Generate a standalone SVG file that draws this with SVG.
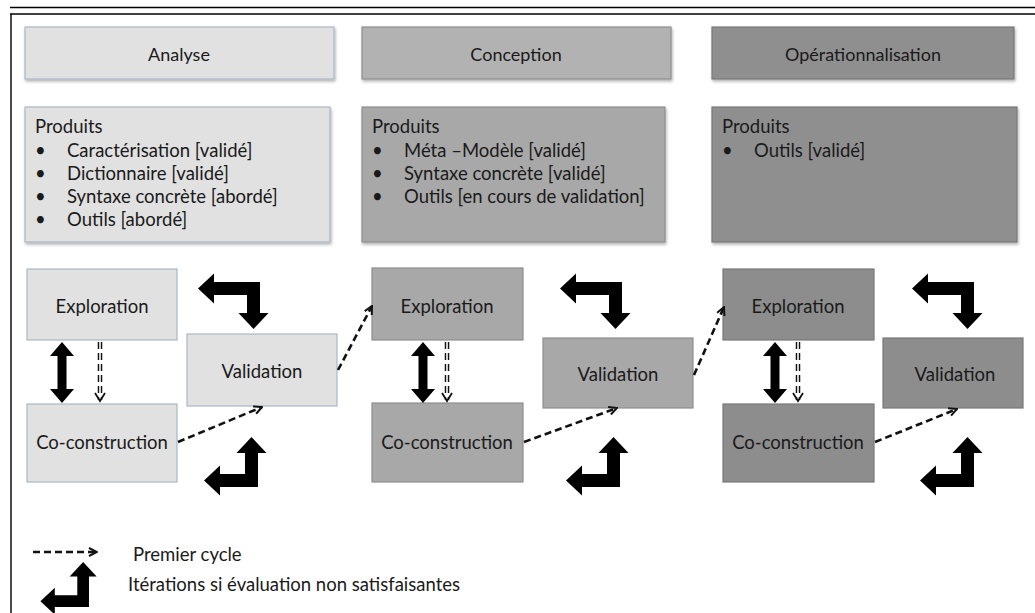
<svg xmlns="http://www.w3.org/2000/svg" xmlns:xlink="http://www.w3.org/1999/xlink" width="1035" height="613" viewBox="0 0 1035 613">
<style>
.t{font-family:Lato,"Open Sans","Liberation Sans",sans-serif;fill:#1a1a1a}
.h{font-size:18px;text-anchor:middle}
.p{font-size:18.5px}
.c{font-size:18.5px;text-anchor:middle}
.b1{fill:#e1e1e1;stroke:#a9b6c6;stroke-width:1.2}
.b2{fill:#a8a8a8;stroke:#8e8e8e;stroke-width:1.2}
.b3{fill:#8d8d8d;stroke:#787878;stroke-width:1.2}
.dash{fill:none;stroke:#111;stroke-width:2.6;stroke-dasharray:7 4}
.blk{fill:#000}
</style>
<defs>
<filter id="sh" x="-5%" y="-5%" width="112%" height="120%">
<feDropShadow dx="1" dy="2" stdDeviation="1.5" flood-color="#000" flood-opacity="0.3"/>
</filter>
<marker id="ah" viewBox="0 0 10 10" refX="9" refY="5" markerWidth="10" markerHeight="10" markerUnits="userSpaceOnUse" orient="auto">
<path d="M1,1 L9,5 L1,9" fill="none" stroke="#111" stroke-width="2"/>
</marker>
<path id="bentTop" class="blk" d="M0,0 V31 H8.5 L-6.5,47 L-21.5,31 H-13 V13 H-46 V21.5 L-62,6.5 L-46,-8.5 V0 Z"/>
<path id="bentBot" class="blk" d="M0,0 V-34 H8.5 L-6.5,-50 L-21.5,-34 H-13 V-13 H-38 V-21.5 L-54,-6.5 L-38,8.5 V0 Z"/>
<path id="dbl" class="blk" d="M0,0 L12,14 H4.5 V47 H12 L0,61 L-12,47 H-4.5 V14 H-12 Z"/>
</defs>
<rect width="1035" height="613" fill="#fff"/>
<g id="frame" fill="none" stroke="#000">
<line x1="10" y1="7.5" x2="1035" y2="7.5" stroke-width="1.6"/>
<line x1="10" y1="14" x2="1035" y2="14" stroke-width="1.6"/>
<line x1="11" y1="14" x2="11" y2="613" stroke-width="1.4"/>
</g>
<g id="headers">
<g id="h-analyse"><rect class="b1" x="25" y="27" width="309" height="52" filter="url(#sh)"/><text class="t h" x="179" y="61">Analyse</text></g>
<g id="h-conception"><rect class="b2" x="362" y="27" width="309" height="52" style="fill:#b2b2b2" filter="url(#sh)"/><text class="t h" x="516" y="61">Conception</text></g>
<g id="h-oper"><rect class="b3" x="712" y="27" width="302" height="52" style="fill:#8f8f8f" filter="url(#sh)"/><text class="t h" x="863" y="61">Opérationnalisation</text></g>
</g>
<g id="products">
<g id="p-analyse"><rect class="b1" x="25" y="107" width="305" height="135" filter="url(#sh)"/>
<text class="t p" x="35" y="133">Produits</text>
<text class="t p" x="35" y="157">•</text><text class="t p" x="67" y="157">Caractérisation [validé]</text>
<text class="t p" x="35" y="180">•</text><text class="t p" x="67" y="180">Dictionnaire [validé]</text>
<text class="t p" x="35" y="203">•</text><text class="t p" x="67" y="203">Syntaxe concrète [abordé]</text>
<text class="t p" x="35" y="226">•</text><text class="t p" x="67" y="226">Outils [abordé]</text>
</g>
<g id="p-conception"><rect class="b2" x="362" y="107" width="303" height="135" filter="url(#sh)"/>
<text class="t p" x="372" y="133">Produits</text>
<text class="t p" x="372" y="157">•</text><text class="t p" x="404" y="157">Méta –Modèle [validé]</text>
<text class="t p" x="372" y="180">•</text><text class="t p" x="404" y="180">Syntaxe concrète [validé]</text>
<text class="t p" x="372" y="203">•</text><text class="t p" x="404" y="203">Outils [en cours de validation]</text>
</g>
<g id="p-oper"><rect class="b3" x="712" y="107" width="305" height="135" style="fill:#8f8f8f" filter="url(#sh)"/>
<text class="t p" x="722" y="133">Produits</text>
<text class="t p" x="722" y="157">•</text><text class="t p" x="754" y="157">Outils [validé]</text>
</g>
</g>
<g id="cycle1">
<g id="c1-exploration"><rect class="b1" x="27" y="269" width="150" height="71"/><text class="t c" x="102" y="313">Exploration</text></g>
<g id="c1-coconstruction"><rect class="b1" x="27" y="404" width="150" height="78"/><text class="t c" x="102" y="449">Co-construction</text></g>
<g id="c1-validation"><rect class="b1" x="187" y="334" width="150" height="72"/><text class="t c" x="262" y="378">Validation</text></g>
</g>
<g id="cycle2">
<g id="c2-exploration"><rect class="b2" x="372" y="268" width="151" height="72"/><text class="t c" x="447" y="313">Exploration</text></g>
<g id="c2-coconstruction"><rect class="b2" x="372" y="403" width="151" height="79"/><text class="t c" x="447" y="449">Co-construction</text></g>
<g id="c2-validation"><rect class="b2" x="543" y="338" width="150" height="70"/><text class="t c" x="618" y="381">Validation</text></g>
</g>
<g id="cycle3">
<g id="c3-exploration"><rect class="b3" x="723" y="269" width="151" height="71"/><text class="t c" x="798" y="313">Exploration</text></g>
<g id="c3-coconstruction"><rect class="b3" x="723" y="404" width="151" height="78"/><text class="t c" x="798" y="449">Co-construction</text></g>
<g id="c3-validation"><rect class="b3" x="883" y="338" width="140" height="70"/><text class="t c" x="955" y="381">Validation</text></g>
</g>
<g id="connectors">
<use xlink:href="#dbl" transform="translate(62,342)"/>
<use xlink:href="#dbl" transform="translate(423,342)"/>
<use xlink:href="#dbl" transform="translate(775,342)"/>
<g id="hollow-dash">
<line x1="100" y1="342" x2="100" y2="400" stroke="#111" stroke-width="4.5" stroke-dasharray="7 4"/>
<line x1="100" y1="342" x2="100" y2="400" stroke="#fff" stroke-width="1.6" stroke-dasharray="7 4"/>
<path d="M95,393 L100,401 L105,393" fill="none" stroke="#111" stroke-width="1.8"/>
<line x1="447" y1="342" x2="447" y2="400" stroke="#111" stroke-width="4.5" stroke-dasharray="7 4"/>
<line x1="447" y1="342" x2="447" y2="400" stroke="#fff" stroke-width="1.6" stroke-dasharray="7 4"/>
<path d="M442,393 L447,401 L452,393" fill="none" stroke="#111" stroke-width="1.8"/>
<line x1="798" y1="342" x2="798" y2="400" stroke="#111" stroke-width="4.5" stroke-dasharray="7 4"/>
<line x1="798" y1="342" x2="798" y2="400" stroke="#fff" stroke-width="1.6" stroke-dasharray="7 4"/>
<path d="M793,393 L798,401 L803,393" fill="none" stroke="#111" stroke-width="1.8"/>
</g>
<line class="dash" x1="178" y1="442" x2="262" y2="407" marker-end="url(#ah)"/>
<line class="dash" x1="524" y1="442" x2="617" y2="408" marker-end="url(#ah)"/>
<line class="dash" x1="875" y1="442" x2="957" y2="409" marker-end="url(#ah)"/>
<line class="dash" x1="338" y1="370" x2="372" y2="306" marker-end="url(#ah)"/>
<line class="dash" x1="694" y1="375" x2="724" y2="307" marker-end="url(#ah)"/>
<use xlink:href="#bentTop" transform="translate(260,282)"/>
<use xlink:href="#bentTop" transform="translate(622,282)"/>
<use xlink:href="#bentTop" transform="translate(974,282)"/>
<use xlink:href="#bentBot" transform="translate(258,487)"/>
<use xlink:href="#bentBot" transform="translate(620,487)"/>
<use xlink:href="#bentBot" transform="translate(974,487)"/>
</g>
<g id="legend">
<line class="dash" x1="33" y1="552" x2="97" y2="552" marker-end="url(#ah)"/>
<use xlink:href="#bentBot" transform="translate(89,607) scale(0.9)"/>
<text class="t p" x="133" y="561">Premier cycle</text>
<text class="t p" x="128" y="591">Itérations si évaluation non satisfaisantes</text>
</g>
</svg>
